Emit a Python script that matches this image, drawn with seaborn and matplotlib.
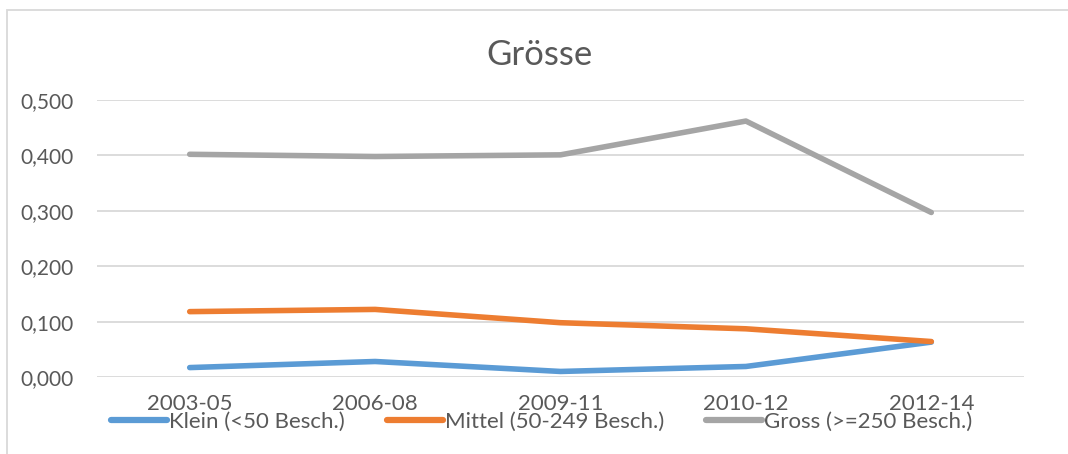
import matplotlib
matplotlib.use("Agg")
import matplotlib.pyplot as plt
import matplotlib.patches as mpatches
from matplotlib.ticker import FuncFormatter
import seaborn as sns
import pandas as pd

title = "Grösse"
periods = ["2003-05", "2006-08", "2009-11", "2010-12", "2012-14"]
klein = [0.017, 0.028, 0.010, 0.019, 0.063]
mittel = [0.118, 0.122, 0.098, 0.087, 0.064]
gross = [0.402, 0.398, 0.401, 0.462, 0.297]
series_names = ["Klein (<50 Besch.)", "Mittel (50-249 Besch.)", "Gross (>=250 Besch.)"]
colors = ["#5B9BD5", "#ED7D31", "#A5A5A5"]
yticks = [0.0, 0.1, 0.2, 0.3, 0.4, 0.5]

rows = []
for name, vals in zip(series_names, [klein, mittel, gross]):
    for p, v in zip(periods, vals):
        rows.append({"Periode": p, "Wert": v, "Serie": name})
df = pd.DataFrame(rows)

sns.set_theme(style="white")
FONT = "Lato"
plt.rcParams["font.family"] = [FONT, "DejaVu Sans"]
TXT = "#595959"

W, H = 1068, 454
fig = plt.figure(figsize=(W / 100, H / 100), dpi=100)
ax = fig.add_axes([97 / W, 1 - 377 / H, (1024 - 97) / W, (377 - 100) / H])

sns.lineplot(data=df, x="Periode", y="Wert", hue="Serie", hue_order=series_names,
             palette=colors, sort=False, linewidth=4.0, ax=ax, legend=False)

ax.set_xlim(-0.5, len(periods) - 0.5)
ax.set_ylim(0, 0.5)
ax.set_yticks(yticks)
ax.yaxis.set_major_formatter(FuncFormatter(lambda v, p: f"{v:.3f}".replace(".", ",")))
ax.grid(axis="y", color="#D9D9D9", linewidth=1.3)
ax.grid(axis="x", visible=False)
for s in ax.spines.values():
    s.set_visible(False)
ax.set_xlabel("")
ax.set_ylabel("")
ax.tick_params(axis="both", length=0, labelsize=15, labelcolor=TXT)
ax.tick_params(axis="x", labelsize=16, pad=12)
ax.tick_params(axis="y", pad=17)
for ln in ax.lines:
    ln.set_clip_on(False)
    ln.set_solid_capstyle("round")
    ln.set_solid_joinstyle("round")

fig.text(540 / W, 1 - 55 / H, title, ha="center", va="center", fontsize=25,
         color=TXT, fontweight="normal")

handles = [plt.Line2D([], [], color=c, linewidth=4.5, solid_capstyle="round") for c in colors]
fig.legend(handles, series_names, loc="center", bbox_to_anchor=(542 / W, 1 - 422 / H),
           ncol=3, frameon=False, fontsize=16, labelcolor=TXT, handlelength=2.5,
           handletextpad=0.1, columnspacing=1.9, borderpad=0, borderaxespad=0)

fig.patches.append(mpatches.Rectangle((7 / W, -0.1), 1.2, 1 - 10 / H + 0.1,
                                      transform=fig.transFigure, fill=False,
                                      edgecolor="#D9D9D9", linewidth=1.3))

fig.savefig("out.png", dpi=100, facecolor="white")
